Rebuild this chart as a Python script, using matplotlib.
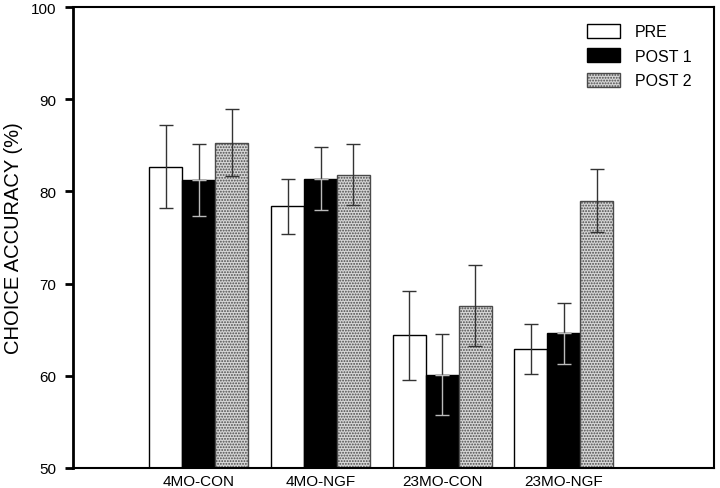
import numpy as np
import matplotlib
matplotlib.use("Agg")
import matplotlib.pyplot as plt

plt.rcParams['font.family'] = ['Liberation Sans', 'DejaVu Sans']
plt.rcParams['hatch.linewidth'] = 0.9

# gruplar ve seriler
gruplar = ["4MO-CON", "4MO-NGF", "23MO-CON", "23MO-NGF"]
seriler = ["PRE", "POST 1", "POST 2"]

pre = [82.7, 78.4, 64.4, 62.9]
post1 = [81.2, 81.4, 60.1, 64.6]
post2 = [85.3, 81.8, 67.6, 79.0]

pre_err = [4.5, 3.0, 4.85, 2.75]
post1_err = [3.9, 3.45, 4.4, 3.35]
post2_err = [3.6, 3.3, 4.4, 3.4]

fig = plt.figure(figsize=(7.2, 4.89), dpi=100)
ax = fig.add_axes([0.1014, 0.0409, 0.8903, 0.9427])

x = np.arange(len(gruplar))
w = 0.271

ax.bar(x - w, pre, w, color="white", edgecolor="black", linewidth=1.0, label=seriler[0], zorder=2)
ax.bar(x, post1, w, color="black", edgecolor="black", linewidth=1.0, label=seriler[1], zorder=2)
ax.bar(x + w, post2, w, color="#d6d6d6", edgecolor="#4a4a4a", linewidth=1.0,
       hatch="......", label=seriler[2], zorder=2)

ek = dict(fmt="none", capsize=5, elinewidth=1.0, capthick=1.0, zorder=3)
ax.errorbar(x - w, pre, yerr=pre_err, ecolor="#333333", **ek)
# siyah cubugun icindeki kisim acik renkli
ax.errorbar(x, post1, yerr=[np.zeros(4), post1_err], ecolor="#333333", **ek)
ax.errorbar(x, post1, yerr=[post1_err, np.zeros(4)], ecolor="#bbbbbb", **ek)
ax.errorbar(x + w, post2, yerr=post2_err, ecolor="#333333", **ek)

ax.set_ylim(50, 100)
ax.set_xlim(-1.034, 4.234)
ax.set_yticks([50, 60, 70, 80, 90, 100])
ax.set_xticks(x)
ax.set_xticklabels(gruplar)
ax.tick_params(axis="y", direction="out", length=6, width=2, pad=6, labelsize=11)
ax.tick_params(axis="x", length=0, pad=4, labelsize=11)
ax.set_ylabel("CHOICE ACCURACY (%)", fontsize=14.5, labelpad=6)

for s in ["top", "right", "bottom"]:
    ax.spines[s].set_linewidth(1.5)
ax.spines["left"].set_linewidth(2)

ax.legend(loc="upper left", bbox_to_anchor=(0.779, 0.995), frameon=False, fontsize=11.5,
          handlelength=2.1, handleheight=1.0, labelspacing=0.55, handletextpad=0.9)

plt.savefig("out.png", dpi=100)
